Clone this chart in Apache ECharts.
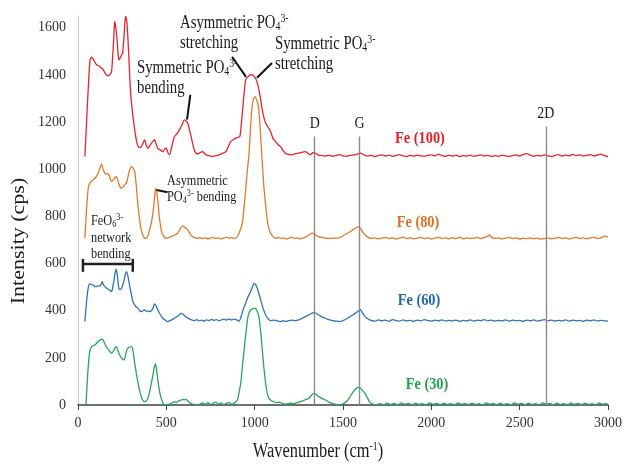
<!DOCTYPE html>
<html><head><meta charset="utf-8">
<script src="https://cdn.jsdelivr.net/npm/echarts@6/dist/echarts.min.js"></script>
<style>html,body{margin:0;padding:0;background:#fff}#c{width:625px;height:466px}</style>
</head><body><div id="c"></div>
<script>
// Raman spectra: [wavenumber (cm-1), intensity (cps)]
const fe100 = [[39,1054],[55,1300],[68,1464],[77,1475],[90,1462],[105,1443],[120,1438],[133,1429],[143,1422],[152,1410],[161,1400],[171,1396],[182,1402],[190,1415],[198,1500],[204,1580],[208,1627],[214,1600],[221,1549],[228,1480],[233,1464],[242,1478],[252,1492],[260,1560],[266,1630],[270,1648],[277,1620],[283,1549],[290,1440],[298,1323],[310,1230],[321,1167],[330,1125],[340,1096],[349,1092],[358,1096],[368,1110],[377,1125],[387,1100],[396,1089],[405,1098],[415,1110],[424,1118],[433,1125],[443,1105],[452,1089],[465,1082],[480,1075],[490,1085],[499,1089],[508,1072],[518,1061],[532,1100],[546,1139],[560,1150],[574,1167],[590,1190],[602,1209],[612,1205],[621,1196],[630,1170],[640,1139],[650,1105],[658,1082],[668,1068],[677,1065],[690,1070],[705,1075],[715,1068],[724,1061],[740,1058],[762,1054],[780,1058],[799,1061],[818,1068],[837,1075],[850,1095],[865,1118],[880,1126],[893,1132],[905,1135],[916,1139],[923,1180],[930,1238],[940,1320],[949,1379],[958,1390],[968,1396],[977,1401],[987,1400],[996,1394],[1005,1386],[1015,1365],[1024,1337],[1034,1295],[1043,1252],[1052,1220],[1062,1196],[1076,1178],[1090,1160],[1104,1130],[1118,1118],[1132,1105],[1147,1096],[1160,1080],[1175,1068],[1190,1063],[1212,1061],[1230,1066],[1250,1068],[1268,1072],[1287,1075],[1300,1068],[1315,1062],[1330,1070],[1343,1068],[1360,1060],[1380,1058],
[1400,1056],[1420,1060],[1440,1055],[1460,1058],[1480,1062],[1500,1057],[1520,1055],[1540,1059],[1560,1061],[1580,1064],[1600,1068],[1620,1060],[1640,1056],[1660,1059],[1680,1054],[1700,1058],[1720,1061],[1740,1056],[1760,1060],[1780,1055],[1800,1058],[1820,1062],[1840,1057],[1860,1054],[1880,1059],[1900,1056],[1920,1060],[1940,1057],[1960,1055],[1980,1059],[2000,1061],[2020,1057],[2040,1064],[2060,1058],[2080,1055],[2100,1059],[2120,1056],[2140,1060],[2160,1054],[2180,1058],[2200,1056],[2220,1060],[2240,1055],[2260,1058],[2280,1061],[2300,1056],[2320,1059],[2340,1054],[2360,1058],[2380,1055],[2400,1060],[2420,1057],[2440,1054],[2460,1058],[2480,1061],[2500,1056],[2520,1063],[2540,1066],[2560,1060],[2580,1055],[2600,1059],[2620,1056],[2640,1061],[2660,1057],[2680,1054],[2700,1059],[2720,1062],[2740,1056],[2760,1060],[2780,1057],[2800,1063],[2820,1058],[2840,1061],[2860,1056],[2880,1059],[2900,1062],[2920,1057],[2940,1060],[2960,1064],[2980,1058],[3000,1054]];

const fe80 = [[39,707],[50,850],[60,930],[68,941],[77,950],[86,955],[100,965],[114,983],[124,1005],[133,1023],[142,1000],[152,983],[162,980],[171,981],[180,965],[190,948],[200,955],[210,965],[218,969],[228,945],[238,925],[246,920],[256,925],[265,935],[274,941],[285,975],[294,1000],[302,1011],[312,1005],[321,990],[330,930],[340,842],[350,780],[358,743],[370,715],[380,708],[387,707],[397,720],[406,745],[415,771],[425,820],[433,880],[439,920],[445,905],[452,863],[460,800],[471,743],[485,715],[499,707],[512,710],[527,714],[546,720],[556,725],[565,729],[580,750],[593,760],[606,752],[621,743],[635,725],[649,714],[663,710],[677,707],
[690,710],[705,706],[720,709],[735,705],[750,708],[765,711],[780,706],[795,709],[810,704],[825,708],[840,712],[855,707],[870,710],[885,706],[902,714],[915,735],[930,771],[940,840],[949,912],[958,990],[968,1068],[977,1180],[987,1280],[995,1300],[1002,1308],[1012,1292],[1021,1266],[1028,1210],[1034,1139],[1043,1030],[1052,926],[1062,850],[1071,785],[1080,750],[1090,729],[1104,715],[1118,707],
[1135,711],[1150,706],[1165,709],[1180,704],[1195,708],[1210,712],[1225,706],[1240,709],[1255,705],[1270,708],[1290,712],[1310,722],[1325,729],[1340,725],[1360,714],[1390,710],[1418,707],[1450,708],[1480,710],[1510,722],[1540,735],[1565,748],[1587,757],[1600,748],[1612,732],[1625,722],[1640,712],[1660,707],
[1680,709],[1700,705],[1720,708],[1740,711],[1760,706],[1780,709],[1800,704],[1820,708],[1840,712],[1860,706],[1880,709],[1900,705],[1920,708],[1940,711],[1960,706],[1980,709],[2000,704],[2020,708],[2040,711],[2060,706],[2080,709],[2100,705],[2120,710],[2140,706],[2160,712],[2180,705],[2200,709],[2220,706],[2240,708],[2260,711],[2280,706],[2300,710],[2320,716],[2330,722],[2340,712],[2360,707],[2380,709],[2400,705],[2420,708],[2440,711],[2460,706],[2480,709],[2500,704],[2520,708],[2540,706],[2560,709],[2580,705],[2600,708],[2620,704],[2640,706],[2660,709],[2680,705],[2700,708],[2720,711],[2740,706],[2760,709],[2780,704],[2800,708],[2820,711],[2840,706],[2860,709],[2880,705],[2900,708],[2920,712],[2940,706],[2960,709],[2980,716],[3000,712]];

const fe60 = [[39,354],[50,450],[60,505],[68,514],[77,510],[86,509],[96,502],[105,502],[114,505],[124,505],[131,512],[137,523],[144,510],[152,502],[161,496],[171,491],[180,486],[190,481],[197,500],[204,530],[210,560],[216,576],[222,555],[231,495],[238,490],[246,495],[254,510],[261,530],[268,555],[274,566],[280,555],[287,530],[293,502],[302,470],[311,438],[325,420],[340,410],[349,400],[358,396],[368,400],[377,403],[387,398],[396,398],[405,396],[415,400],[425,412],[433,429],[442,420],[452,403],[465,385],[480,368],[494,360],[508,354],[520,358],[533,362],[546,368],[560,375],[572,382],[583,389],[595,385],[607,376],[621,368],[640,362],[658,358],
[672,362],[686,357],[700,360],[714,356],[728,361],[742,358],[756,363],[770,359],[784,362],[798,357],[812,361],[826,364],[840,360],[854,365],[868,361],[882,364],[902,360],[912,356],[925,380],[937,410],[949,432],[962,458],[977,481],[987,500],[996,516],[1006,510],[1015,495],[1024,472],[1034,446],[1048,410],[1062,382],[1076,366],[1090,358],[1110,360],[1130,356],[1146,354],[1165,358],[1175,354],[1190,357],[1210,360],[1230,358],[1250,361],[1270,368],[1290,376],[1310,384],[1334,392],[1350,388],[1370,378],[1385,372],[1400,368],[1420,362],[1440,358],[1460,356],[1484,354],[1500,358],[1520,366],[1540,375],[1560,384],[1575,392],[1590,400],[1597,405],[1607,395],[1617,383],[1625,375],[1640,366],[1662,358],
[1680,356],[1700,361],[1720,357],[1740,360],[1760,355],[1780,362],[1800,358],[1820,356],[1840,361],[1860,357],[1880,359],[1900,355],[1920,360],[1940,357],[1960,362],[1980,358],[2000,356],[2020,360],[2040,357],[2060,361],[2080,356],[2100,359],[2120,357],[2140,360],[2160,355],[2180,359],[2200,357],[2220,361],[2240,356],[2260,360],[2280,358],[2300,362],[2320,357],[2340,360],[2360,356],[2380,359],[2400,357],[2420,361],[2440,356],[2460,360],[2480,357],[2500,359],[2520,355],[2540,360],[2560,357],[2580,361],[2600,356],[2620,359],[2640,362],[2660,357],[2680,360],[2700,356],[2720,359],[2740,357],[2760,361],[2780,356],[2800,360],[2820,357],[2840,359],[2860,355],[2880,360],[2900,357],[2920,361],[2940,356],[2960,359],[2980,357],[3000,356]];

const fe30 = [[45,0],[55,130],[65,220],[77,248],[86,252],[96,255],[105,262],[114,269],[125,275],[133,278],[139,279],[146,270],[153,258],[161,248],[170,238],[180,228],[190,219],[200,228],[210,243],[218,248],[226,230],[236,212],[248,198],[261,191],[270,215],[278,236],[283,241],[292,246],[302,248],[310,236],[321,177],[330,135],[340,92],[350,58],[358,35],[367,20],[377,14],[387,18],[396,28],[405,55],[415,92],[425,130],[432,160],[437,174],[443,160],[452,106],[461,60],[471,28],[480,10],[490,0],[504,2],[518,4],[532,9],[546,14],[556,10],[565,16],[574,19],[583,21],[593,24],[602,22],[611,25],[620,18],[630,12],[640,7],[650,3],[665,2],[677,0],
[690,4],[705,9],[720,3],[735,10],[750,2],[765,8],[780,12],[795,4],[810,9],[825,2],[840,7],[855,11],[870,3],[885,8],[902,21],[912,55],[921,92],[930,160],[940,233],[950,300],[959,361],[968,390],[977,403],[987,408],[996,409],[1005,410],[1014,398],[1024,375],[1034,310],[1043,233],[1052,160],[1062,92],[1071,50],[1081,28],[1095,18],[1109,14],[1125,10],[1140,12],[1160,6],[1180,4],[1200,8],[1220,5],[1240,10],[1260,14],[1280,20],[1295,25],[1306,28],[1320,40],[1334,49],[1348,45],[1362,36],[1380,28],[1400,21],[1420,12],[1437,7],[1460,3],[1484,2],[1500,5],[1520,15],[1540,35],[1559,57],[1575,70],[1587,75],[1597,73],[1610,62],[1625,49],[1640,28],[1653,10],[1670,4],
[1690,1],[1710,6],[1730,0],[1750,8],[1770,2],[1790,7],[1810,0],[1830,9],[1850,3],[1870,7],[1890,1],[1910,8],[1930,2],[1950,6],[1970,0],[1990,9],[2010,3],[2030,7],[2050,1],[2070,8],[2090,2],[2110,6],[2130,0],[2150,9],[2170,3],[2190,7],[2210,1],[2230,8],[2250,2],[2270,6],[2290,0],[2310,9],[2330,3],[2350,7],[2370,1],[2390,8],[2410,2],[2430,6],[2450,0],[2470,9],[2490,3],[2510,7],[2530,1],[2550,8],[2570,2],[2590,6],[2610,0],[2630,9],[2650,3],[2670,7],[2690,1],[2710,8],[2730,2],[2750,6],[2770,0],[2790,9],[2810,3],[2830,7],[2850,1],[2870,8],[2890,2],[2910,6],[2930,0],[2950,9],[2970,3],[2990,6],[3000,2]];

const seriesNames = ['Fe (100)', 'Fe (80)', 'Fe (60)', 'Fe (30)'];
const seriesColors = ['#e8232a', '#e2792c', '#2f72b8', '#27a55a'];
const labelColors = ['#e01f26', '#dc7020', '#2466ae', '#23a150'];
// Carbon bands
const bandNames = ['D', 'G', '2D'];
const bandPositions = [1340, 1593, 2648];
const bandTops = [1139, 1139, 1181];
// Axis ticks
const xTicks = [0, 500, 1000, 1500, 2000, 2500, 3000];
const yTicks = [0, 200, 400, 600, 800, 1000, 1200, 1400, 1600];

const serif = '"Liberation Serif","Times New Roman",serif';
const chart = echarts.init(document.getElementById('c'), null, {renderer: 'canvas'});

const allData = [fe100, fe80, fe60, fe30];
const series = allData.map((d, i) => ({
  name: seriesNames[i], type: 'line', data: d, showSymbol: false, smooth: 0.25,
  lineStyle: {color: seriesColors[i], width: 1.3}, itemStyle: {color: seriesColors[i]},
  z: 3, animation: false
}));
series.push({
  type: 'line', data: [], silent: true, animation: false,
  markLine: {
    silent: true, symbol: ['none', 'none'], animation: false,
    label: {show: false},
    lineStyle: {color: '#8a8a8a', width: 1.4, type: 'solid'},
    data: bandPositions.map((x, i) => [{coord: [x, 0]}, {coord: [x, bandTops[i]]}])
  }
});

chart.setOption({
  animation: false,
  grid: {left: 78, right: 14, top: 16, bottom: 61},
  xAxis: {
    type: 'value', min: 0, max: 3000, interval: 500,
    axisLine: {lineStyle: {color: '#404040', width: 1.5}},
    axisTick: {show: true, length: 5, lineStyle: {color: '#404040'}},
    splitLine: {show: false},
    axisLabel: {color: '#333', fontFamily: serif, fontSize: 14, margin: 11,
      formatter: v => xTicks.includes(v) ? String(v) : ''}
  },
  yAxis: {
    type: 'value', min: 0, max: 1650, interval: 200,
    axisLine: {show: true, lineStyle: {color: '#c8c8c8', width: 1}},
    axisTick: {show: false},
    splitLine: {show: false},
    axisLabel: {color: '#333', fontFamily: serif, fontSize: 14, margin: 12,
      formatter: v => yTicks.includes(v) ? String(v) : ''}
  },
  series: series
});

const P = (x, y) => chart.convertToPixel({gridIndex: 0}, [x, y]);
const rich18 = {
  sub: {fontSize: 12, fontFamily: serif, verticalAlign: 'bottom', lineHeight: 8},
  sup: {fontSize: 12, fontFamily: serif, verticalAlign: 'top', lineHeight: 12}
};
const rich15 = {
  sub: {fontSize: 10, fontFamily: serif, verticalAlign: 'bottom', lineHeight: 7},
  sup: {fontSize: 10, fontFamily: serif, verticalAlign: 'top', lineHeight: 10}
};
function txt(x, y, text, size, opt) {
  opt = opt || {};
  return {
    type: 'text', x: x, y: y, scaleX: opt.scaleX || 0.82, scaleY: opt.scaleY || 1,
    rotation: opt.rotation || 0, z: 10,
    style: {
      text: text, fill: opt.color || '#1a1a1a', fontFamily: serif, fontSize: size,
      fontWeight: opt.bold ? 'bold' : 'normal',
      align: opt.align || 'left', verticalAlign: 'middle',
      lineHeight: Math.round(size * 1.1),
      rich: size >= 17 ? rich18 : rich15
    }
  };
}
function seg(a, b, w, color) {
  const p1 = P(a[0], a[1]), p2 = P(b[0], b[1]);
  return {type: 'line', z: 9, shape: {x1: p1[0], y1: p1[1], x2: p2[0], y2: p2[1]},
    style: {stroke: color || '#111', lineWidth: w || 2}};
}

const g = [];
// annotation texts
g.push(txt(180, 23, 'Asymmetric PO{sub|4}{sup|3-}', 18));
g.push(txt(180, 43, 'stretching', 18));
g.push(txt(275, 44, 'Symmetric PO{sub|4}{sup|3-}', 18));
g.push(txt(275, 64, 'stretching', 18));
g.push(txt(137, 68, 'Symmetric PO{sub|4}{sup|3-}', 18));
g.push(txt(137, 88, 'bending', 18));
g.push(txt(167, 181, 'Asymmetric', 15));
g.push(txt(167, 197, 'PO{sub|4}{sup|3-} bending', 15));
g.push(txt(91, 221, 'FeO{sub|6}{sup|3-}', 15));
g.push(txt(91, 238, 'network', 15));
g.push(txt(91, 254, 'bending', 15));
// band labels
bandPositions.forEach((x, i) => {
  const p = P(x, bandTops[i]);
  g.push(txt(p[0], p[1] - 13, bandNames[i], 17, {align: 'center'}));
});
// series labels
const seriesLabelPos = [[420, 138], [418, 222], [419, 300], [427, 384]];
seriesNames.forEach((n, i) => {
  g.push(txt(seriesLabelPos[i][0], seriesLabelPos[i][1], n, 17.5, {align: 'center', bold: true, color: labelColors[i]}));
});
// leader lines (data coords)
g.push(seg([636, 1316], [617, 1210], 2));
g.push(seg([872, 1477], [951, 1392], 2));
g.push(seg([1098, 1451], [1013, 1388], 2));
g.push(seg([445, 912], [507, 902], 2));
// FeO6 bracket
g.push(seg([28, 598], [310, 598], 2.5, '#222'));
g.push(seg([28, 620], [28, 565], 2.5, '#222'));
g.push(seg([310, 620], [310, 565], 2.5, '#222'));
// axis titles
g.push(txt(318, 452, 'Wavenumber (cm{sup|-1})', 20, {align: 'center'}));
g.push({
  type: 'text', x: 19, y: 241, rotation: Math.PI / 2, scaleX: 1, scaleY: 0.82, z: 10,
  style: {text: 'Intensity (cps)', fill: '#1a1a1a', fontFamily: serif, fontSize: 22,
    align: 'center', verticalAlign: 'middle'}
});
chart.setOption({graphic: g});
</script>
</body></html>
